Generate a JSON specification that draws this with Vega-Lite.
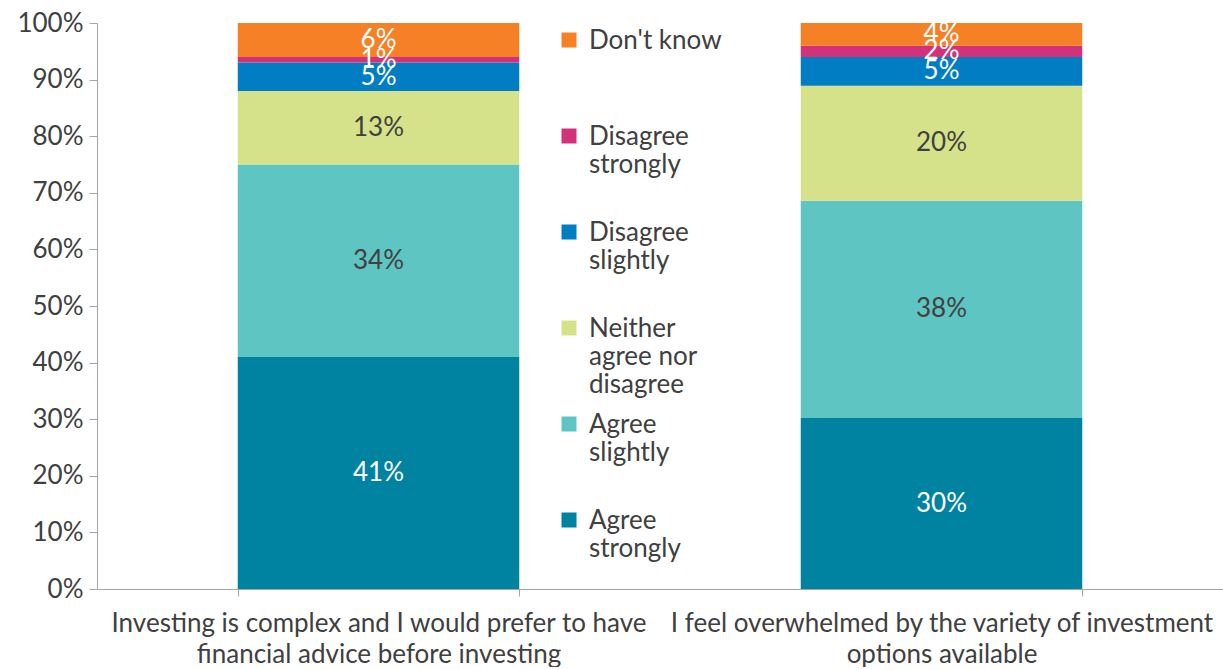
{
  "$schema": "https://vega.github.io/schema/vega-lite/v6.json",
  "width": 1126,
  "height": 566,
  "padding": {"left": 16, "top": 10, "right": 0, "bottom": 0},
  "autosize": {"type": "pad"},
  "config": {
    "view": {"stroke": null},
    "font": "Lato",
    "axis": {"grid": false, "domainColor": "#A6A6A6", "tickColor": "#A6A6A6", "labelColor": "#404040", "labelFontSize": 26, "labelFont": "Lato", "title": null}
  },
  "data": {
    "values": [
      {"statement": "Investing is complex and I would prefer to have financial advice before investing", "response": "Agree strongly", "ord": 1, "share": 0.41},
      {"statement": "Investing is complex and I would prefer to have financial advice before investing", "response": "Agree slightly", "ord": 2, "share": 0.34},
      {"statement": "Investing is complex and I would prefer to have financial advice before investing", "response": "Neither agree nor disagree", "ord": 3, "share": 0.13},
      {"statement": "Investing is complex and I would prefer to have financial advice before investing", "response": "Disagree slightly", "ord": 4, "share": 0.05},
      {"statement": "Investing is complex and I would prefer to have financial advice before investing", "response": "Disagree strongly", "ord": 5, "share": 0.01},
      {"statement": "Investing is complex and I would prefer to have financial advice before investing", "response": "Don't know", "ord": 6, "share": 0.06},
      {"statement": "I feel overwhelmed by the variety of investment options available", "response": "Agree strongly", "ord": 1, "share": 0.302},
      {"statement": "I feel overwhelmed by the variety of investment options available", "response": "Agree slightly", "ord": 2, "share": 0.384},
      {"statement": "I feel overwhelmed by the variety of investment options available", "response": "Neither agree nor disagree", "ord": 3, "share": 0.203},
      {"statement": "I feel overwhelmed by the variety of investment options available", "response": "Disagree slightly", "ord": 4, "share": 0.051},
      {"statement": "I feel overwhelmed by the variety of investment options available", "response": "Disagree strongly", "ord": 5, "share": 0.02},
      {"statement": "I feel overwhelmed by the variety of investment options available", "response": "Don't know", "ord": 6, "share": 0.04}
    ]
  },
  "encoding": {
    "x": {
      "field": "statement",
      "type": "nominal",
      "sort": ["Investing is complex and I would prefer to have financial advice before investing", "I feel overwhelmed by the variety of investment options available"],
      "scale": {"paddingInner": 0.5, "paddingOuter": 0.25},
      "axis": {
        "labelAngle": 0,
        "labelLineHeight": 31,
        "labelPadding": 14,
        "labelLimit": 800,
        "tickBand": "extent",
        "tickSize": 7,
        "labelBaseline": "top",
        "labelExpr": "datum.label == 'Investing is complex and I would prefer to have financial advice before investing' ? ['Investing is complex and I would prefer to have', 'financial advice before investing'] : datum.label == 'I feel overwhelmed by the variety of investment options available' ? ['I feel overwhelmed by the variety of investment', 'options available'] : ''"
      }
    }
  },
  "layer": [
    {
      "mark": {"type": "bar"},
      "encoding": {
        "y": {
          "field": "share",
          "type": "quantitative",
          "stack": "zero",
          "scale": {"domain": [0, 1]},
          "axis": {"format": ".0%", "values": [0, 0.1, 0.2, 0.3, 0.4, 0.5, 0.6, 0.7, 0.8, 0.9, 1], "tickSize": 8, "labelPadding": 6}
        },
        "color": {
          "field": "response",
          "type": "nominal",
          "scale": {
            "domain": ["Don't know", "Disagree strongly", "Disagree slightly", "Neither agree nor disagree", "Agree slightly", "Agree strongly"],
            "range": ["#F58025", "#D2327A", "#007DC3", "#D5E28A", "#5FC5C2", "#0083A1"]
          },
          "legend": {
            "orient": "none",
            "legendX": 459,
            "legendY": 4,
            "title": null,
            "symbolType": "square",
            "symbolSize": 225,
            "symbolStrokeWidth": 0,
            "labelFontSize": 26,
            "labelColor": "#404040",
            "labelFont": "Lato",
            "labelLineHeight": 31,
            "labelBaseline": "top",
            "labelOffset": 7,
            "labelLimit": 300,
            "gridAlign": "all",
            "rowPadding": 13,
            "labelExpr": "datum.label == 'Disagree strongly' ? ['Disagree', 'strongly'] : datum.label == 'Disagree slightly' ? ['Disagree', 'slightly'] : datum.label == 'Neither agree nor disagree' ? ['Neither', 'agree nor', 'disagree'] : datum.label == 'Agree slightly' ? ['Agree', 'slightly'] : datum.label == 'Agree strongly' ? ['Agree', 'strongly'] : datum.label",
            "encode": {"labels": {"update": {"dy": {"value": -12}}}}
          }
        },
        "order": {"field": "ord", "type": "quantitative"}
      }
    },
    {
      "mark": {"type": "text", "fontSize": 26, "font": "Lato"},
      "encoding": {
        "y": {"field": "share", "type": "quantitative", "stack": "zero", "bandPosition": 0.5},
        "text": {"field": "share", "type": "quantitative", "format": ".0%"},
        "color": {
          "condition": {"test": "datum.response == 'Agree slightly' || datum.response == 'Neither agree nor disagree'", "value": "#404040"},
          "value": "#FFFFFF"
        },
        "order": {"field": "ord", "type": "quantitative"}
      }
    }
  ]
}
